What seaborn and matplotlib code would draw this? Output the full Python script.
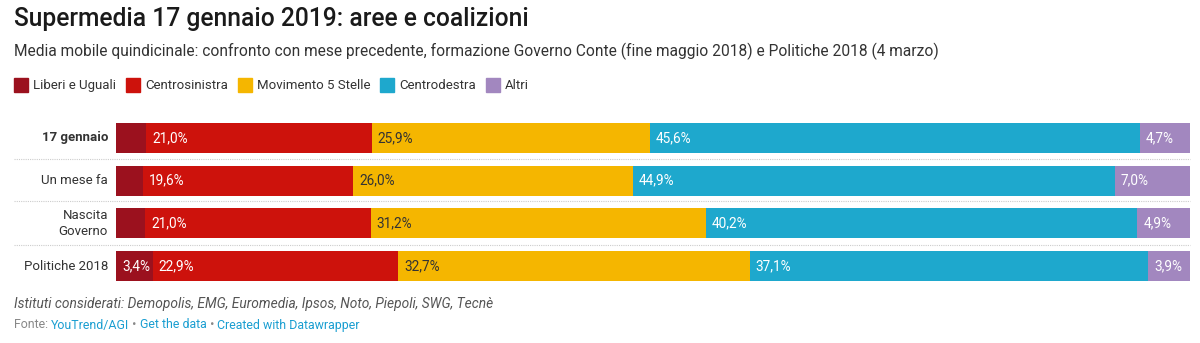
import matplotlib
matplotlib.use("Agg")
import matplotlib.pyplot as plt
from matplotlib.lines import Line2D
from matplotlib.patches import Rectangle
import seaborn as sns
import numpy as np
import pandas as pd

categories = ["17 gennaio", "Un mese fa", "Nascita\nGoverno", "Politiche 2018"]
series = ["Liberi e Uguali", "Centrosinistra", "Movimento 5 Stelle", "Centrodestra", "Altri"]
leu = [2.8, 2.5, 2.7, 3.4]
csx = [21.0, 19.6, 21.0, 22.9]
m5s = [25.9, 26.0, 31.2, 32.7]
cdx = [45.6, 44.9, 40.2, 37.1]
altri = [4.7, 7.0, 4.9, 3.9]
show_label = [[False, False, False, True], [True] * 4, [True] * 4, [True] * 4, [True] * 4]
colors = ["#9b111e", "#cd120c", "#f5b600", "#1ea8cd", "#a287bf"]
text_colors = ["white", "white", "#333333", "white", "white"]

sns.set_theme(style="white")
plt.rcParams["font.family"] = ["Roboto", "DejaVu Sans"]

vals = np.array([leu, csx, m5s, cdx, altri])
cum = np.cumsum(vals, axis=0)
starts = cum - vals

fig = plt.figure(figsize=(12, 3.43), dpi=100)
ax = fig.add_axes([116 / 1200, 1 - 287.5 / 343, (1190 - 116) / 1200, (287.5 - 116.5) / 343])

# draw stacked bars: cumulative totals from last to first
for i in range(len(series) - 1, -1, -1):
    df = pd.DataFrame({"cat": categories, "val": cum[i]})
    sns.barplot(data=df, x="val", y="cat", orient="h", color=colors[i],
                saturation=1, width=0.70, ax=ax, linewidth=0)

ax.set_xlim(0, cum[-1].max())
ax.set_ylim(3.5, -0.5)
ax.set_xlabel("")
ax.set_ylabel("")
ax.set_xticks([])
ax.set_yticks([])
for s in ax.spines.values():
    s.set_visible(False)

# value labels
for i in range(len(series)):
    for j in range(len(categories)):
        if show_label[i][j]:
            ax.text(starts[i][j] + 0.55, j, f"{vals[i][j]:.1f}%".replace(".", ","),
                    va="center", ha="left", fontsize=9.8, color=text_colors[i])

# category labels
for j, c in enumerate(categories):
    ax.text(-0.75, j, c, va="center", ha="right", fontsize=9.5, color="#333333",
            fontweight="bold" if j == 0 else "normal", linespacing=1.25)

# dotted separators
for ysep in [159.5, 201.5, 244.5]:
    fig.add_artist(Line2D([14 / 1200, 1190 / 1200], [1 - ysep / 343] * 2,
                          color="#cccccc", linewidth=0.8, linestyle=(0, (1, 1))))

# title and subtitle
fig.text(14 / 1200, 1 - 19 / 343, "Supermedia 17 gennaio 2019: aree e coalizioni",
         fontsize=17.7, fontweight="medium", color="#1a1a1a", va="center", ha="left")
fig.text(14 / 1200, 1 - 51 / 343,
         "Media mobile quindicinale: confronto con mese precedente, formazione Governo Conte (fine maggio 2018) e Politiche 2018 (4 marzo)",
         fontsize=11.2, color="#333333", va="center", ha="left")

# legend
lx = 14
leg_y = 85
for i, name in enumerate(series):
    fig.add_artist(Rectangle((lx / 1200, 1 - (leg_y + 7) / 343), 14 / 1200, 14 / 343,
                             transform=fig.transFigure, color=colors[i]))
    t = fig.text((lx + 19) / 1200, 1 - (leg_y + 0.5) / 343, name, fontsize=9.5,
                 color="#333333", va="center", ha="left")
    fig.canvas.draw()
    bb = t.get_window_extent()
    lx = bb.x1 + 10

# footer
fig.text(14 / 1200, 1 - 304 / 343,
         "Istituti considerati: Demopolis, EMG, Euromedia, Ipsos, Noto, Piepoli, SWG, Tecnè",
         fontsize=9.95, style="italic", color="#555555", va="center", ha="left")
t = fig.text(14 / 1200, 1 - 325 / 343, "Fonte: ", fontsize=8.9, color="#888888", va="center", ha="left")
fig.canvas.draw()
x = t.get_window_extent().x1
parts = [("YouTrend/AGI", "#1a9ed1"), (" • ", "#888888"), ("Get the data", "#1a9ed1"),
         (" • ", "#888888"), ("Created with Datawrapper", "#1a9ed1")]
for txt, col in parts:
    t = fig.text(x / 1200, 1 - 325 / 343, txt, fontsize=8.9, color=col, va="center", ha="left")
    fig.canvas.draw()
    x = t.get_window_extent().x1

fig.savefig("out.png", dpi=100)
